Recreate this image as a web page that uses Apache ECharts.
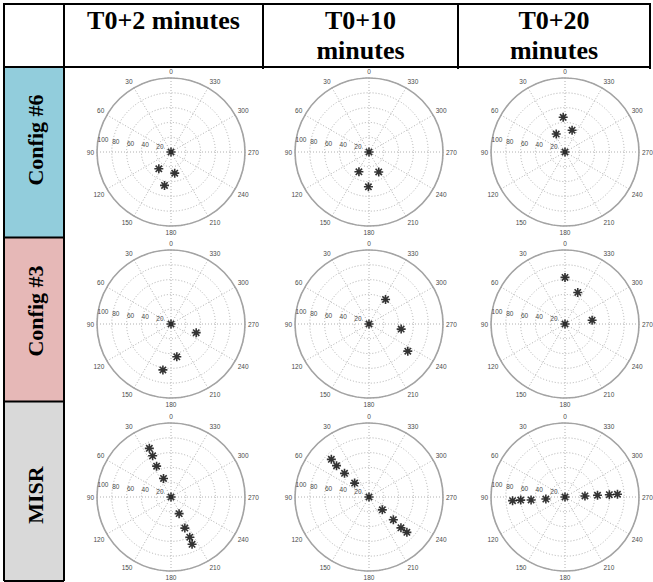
<!DOCTYPE html>
<html><head><meta charset="utf-8">
<script src="https://cdn.jsdelivr.net/npm/echarts@6/dist/echarts.min.js"></script>
<style>html,body{margin:0;padding:0;background:#fff}#c{width:653px;height:582px}</style>
</head><body><div id="c"></div>
<script>
// ---- table text ----
const columnTitles = ['T0+2 minutes', 'T0+10\nminutes', 'T0+20\nminutes'];
const rowTitles = ['Config #6', 'Config #3', 'MISR'];
const rowColors = ['#92CDDC', '#E6B8B7', '#D9D9D9'];

// ---- polar axis settings ----
const angleMin = 0, angleMax = 360, angleStep = 30;
const radiusMin = 0, radiusMax = 100, radiusStep = 20;

// ---- data: [radius, angle in degrees] ----
const config6_t2  = [[0, 0], [28, 144], [29, 190], [46, 169]];
const config6_t10 = [[0, 0], [30, 153], [30, 206], [47, 179]];
const config6_t20 = [[0, 0], [47, 3], [27, 26], [31, 342]];
const config3_t2  = [[0, 0], [36, 251], [45, 190], [63, 170]];
const config3_t10 = [[0, 0], [40, 326], [44, 261], [64, 235]];
const config3_t20 = [[0, 0], [63, 0], [46, 338], [37, 278]];
const misr_t2  = [[0, 0], [72, 24], [61, 24], [46, 25], [27, 22], [25, 206], [46, 204], [60, 205], [70, 204]];
const misr_t10 = [[0, 0], [72, 45], [61, 46], [46, 46], [27, 46], [25, 226], [45, 227], [60, 226], [70, 227]];
const misr_t20 = [[0, 0], [71, 94], [60, 94], [46, 95], [26, 96], [27, 273], [44, 273], [60, 273], [71, 273]];

const cellData = [
  [config6_t2, config6_t10, config6_t20],
  [config3_t2, config3_t10, config3_t20],
  [misr_t2, misr_t10, misr_t20]
];

// ---- layout ----
const colX = [4, 64, 263, 458, 650];
const rowY = [4, 67, 237.5, 401.5, 581];
const rowLabelY = [140, 311, 495];
const plotCentersX = [171, 369, 565];
const plotCentersY = [152, 324, 497];
const plotRadius = 74;

const asterisk = 'path://M0,-10L0,10M-10,0L10,0M-7.07,-7.07L7.07,7.07M-7.07,7.07L7.07,-7.07';

const polar = [], angleAxis = [], radiusAxis = [], series = [];
const labelFont = 'Liberation Sans';
const labelColor = '#4a4a4a';
const gridLine = {type: [1, 2], color: '#b0b0b0', width: 1};
for (let r = 0; r < 3; r++) {
  for (let c = 0; c < 3; c++) {
    const idx = polar.length;
    polar.push({center: [plotCentersX[c], plotCentersY[r]], radius: plotRadius});
    angleAxis.push({
      polarIndex: idx, type: 'value', min: angleMin, max: angleMax, interval: angleStep,
      startAngle: 90, clockwise: false,
      axisLine: {lineStyle: {color: '#a3a3a3', width: 1.6}},
      axisTick: {show: false},
      axisLabel: {fontSize: 6.5, color: labelColor, margin: 3, fontFamily: labelFont},
      splitLine: {lineStyle: gridLine}
    });
    radiusAxis.push({
      polarIndex: idx, type: 'value', min: radiusMin, max: radiusMax, interval: radiusStep,
      axisLine: {show: false}, axisTick: {show: false}, axisLabel: {show: false},
      splitLine: {lineStyle: gridLine}
    });
    series.push({
      type: 'scatter', coordinateSystem: 'polar', polarIndex: idx,
      symbol: asterisk, symbolSize: 9,
      itemStyle: {color: '#000', borderColor: '#000', borderWidth: 1.6},
      data: cellData[r][c], z: 5
    });
  }
}
// second polar per cell, only used to place the radial tick labels
for (let r = 0; r < 3; r++) {
  for (let c = 0; c < 3; c++) {
    const idx = polar.length;
    polar.push({center: [plotCentersX[c], plotCentersY[r]], radius: plotRadius});
    angleAxis.push({
      polarIndex: idx, type: 'value', min: angleMin, max: angleMax, startAngle: 173,
      axisLine: {show: false}, axisTick: {show: false}, axisLabel: {show: false}, splitLine: {show: false}
    });
    radiusAxis.push({
      polarIndex: idx, type: 'value', min: radiusMin, max: radiusMax, interval: radiusStep,
      axisLine: {show: false}, axisTick: {show: false}, splitLine: {show: false},
      axisLabel: {fontSize: 6.5, color: labelColor, margin: 0, showMinLabel: false,
        align: 'left', verticalAlign: 'bottom', fontFamily: labelFont}
    });
  }
}

// ---- table graphics ----
const graphic = [];
for (let r = 0; r < 3; r++) {
  graphic.push({type: 'rect', z: -10, silent: true,
    shape: {x: colX[0], y: rowY[r + 1], width: colX[1] - colX[0], height: rowY[r + 2] - rowY[r + 1]},
    style: {fill: rowColors[r]}});
}
const black = {stroke: '#000', lineWidth: 2};
function hline(y, x1, x2) { graphic.push({type: 'line', z: 10, silent: true, shape: {x1, y1: y, x2, y2: y}, style: black}); }
function vline(x, y1, y2) { graphic.push({type: 'line', z: 10, silent: true, shape: {x1: x, y1, x2: x, y2}, style: black}); }
hline(rowY[0], colX[0] - 1, colX[4] + 1);
hline(rowY[1], colX[0] - 1, colX[4] + 1);
hline(rowY[2], colX[0], colX[1]);
hline(rowY[3], colX[0], colX[1]);
hline(rowY[4], colX[0], colX[1]);
vline(colX[0], rowY[0], rowY[4]);
vline(colX[1], rowY[0], rowY[4]);
vline(colX[2], rowY[0], rowY[1] + 2);
vline(colX[3], rowY[0], rowY[1] + 2);
vline(colX[4], rowY[0], rowY[1] + 2);

const serif = '"Liberation Serif", "Times New Roman", serif';
for (let c = 0; c < 3; c++) {
  graphic.push({type: 'text', z: 20, silent: true,
    x: (colX[c + 1] + colX[c + 2]) / 2, y: 5,
    style: {text: columnTitles[c], font: 'bold 26px ' + serif, fill: '#000',
      textAlign: 'center', textVerticalAlign: 'top', lineHeight: 30}});
}
for (let r = 0; r < 3; r++) {
  graphic.push({type: 'text', z: 20, silent: true,
    x: 35, y: rowLabelY[r], rotation: Math.PI / 2,
    style: {text: rowTitles[r], font: 'bold 22px ' + serif, fill: '#000',
      textAlign: 'center', textVerticalAlign: 'middle'}});
}

const chart = echarts.init(document.getElementById('c'), null, {renderer: 'svg'});
chart.setOption({
  animation: false,
  backgroundColor: '#fff',
  polar, angleAxis, radiusAxis, series, graphic
});
</script>
</body></html>
